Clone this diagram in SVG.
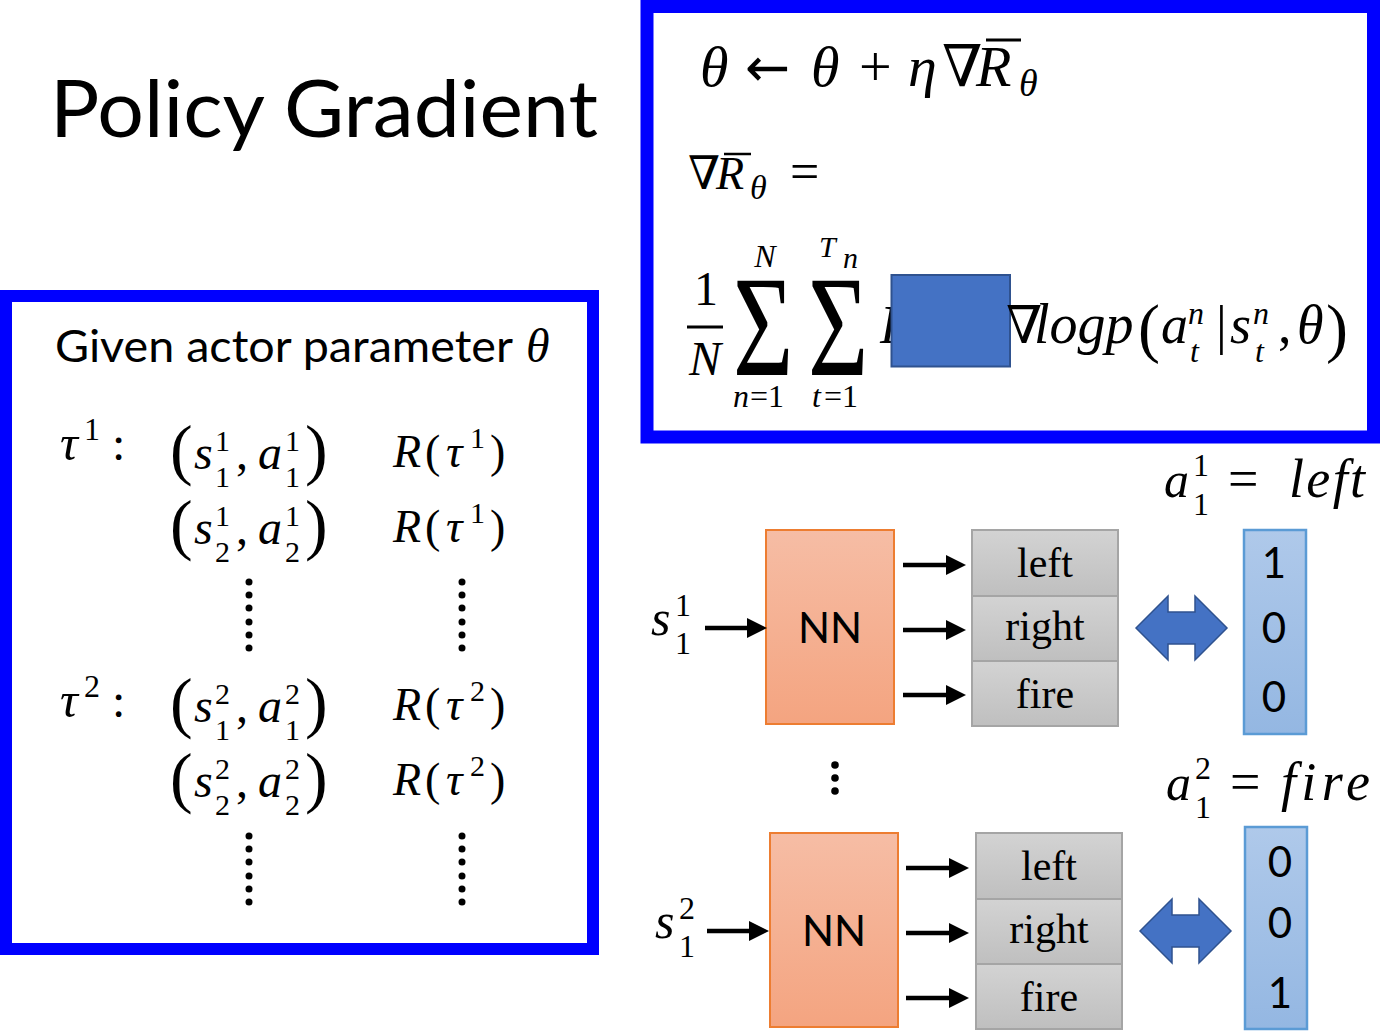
<svg xmlns="http://www.w3.org/2000/svg" width="1394" height="1031" viewBox="0 0 1394 1031">
<style>
.m{font-family:'Liberation Serif','DejaVu Serif',serif;font-style:italic;fill:#000}
.mu{font-family:'Liberation Serif','DejaVu Serif',serif;font-style:normal;fill:#000}
.sans{font-family:Lato,'Liberation Sans',sans-serif;fill:#000}
.tm{font-family:'Liberation Serif',serif;fill:#000;font-size:42px;text-anchor:middle}
.frame{fill:#fff;stroke:#0000ff}
.nn{fill:url(#gNN);stroke:#ED7D31;stroke-width:2}
.gray{fill:url(#gGray);stroke:#A5A5A5;stroke-width:2}
.vec{fill:url(#gVec);stroke:#5B9BD5;stroke-width:2.5}
.dbl{fill:#4472C4;stroke:#2F528F;stroke-width:1.5}
.arr{stroke:#000;stroke-width:4.5;fill:none;marker-end:url(#ah)}
.dot{fill:#000}
</style>
<defs>
<linearGradient id="gNN" x1="0" y1="0" x2="0" y2="1"><stop offset="0" stop-color="#F6BDA5"/><stop offset="1" stop-color="#F4A480"/></linearGradient>
<linearGradient id="gGray" x1="0" y1="0" x2="0" y2="1"><stop offset="0" stop-color="#D3D3D3"/><stop offset="1" stop-color="#BFBFBF"/></linearGradient>
<linearGradient id="gVec" x1="0" y1="0" x2="0" y2="1"><stop offset="0" stop-color="#AFC9EA"/><stop offset="1" stop-color="#94B7E2"/></linearGradient>
<marker id="ah" markerUnits="userSpaceOnUse" markerWidth="20" markerHeight="20" refX="10" refY="10" orient="auto"><path d="M0,0 L20,10 L0,20 z" fill="#000"/></marker>
<polygon id="dblshape" points="1136,628 1168,596 1168,612 1195,612 1195,596 1227,628 1195,660 1195,644 1168,644 1168,660"/>
</defs>
<rect width="1394" height="1031" fill="#fff"/>

<g id="title"><text class="sans" x="50" y="137" font-size="80" textLength="548" lengthAdjust="spacingAndGlyphs">Policy Gradient</text></g>

<g id="trajectories">
<rect class="frame" x="6" y="296" width="587" height="653" stroke-width="12"/>
<text class="sans" x="55" y="362" font-size="44" textLength="458" lengthAdjust="spacingAndGlyphs">Given actor parameter</text>
<text class="m" x="526" y="362" font-size="48">θ</text>

<text class="m" x="60" y="460" font-size="50">τ</text><text class="mu" x="84" y="440" font-size="32">1</text><text class="mu" x="112" y="460" font-size="48">:</text>
<text class="m" x="60" y="717" font-size="50">τ</text><text class="mu" x="84" y="697" font-size="32">2</text><text class="mu" x="112" y="717" font-size="48">:</text>

<g id="row1">
<text class="mu" x="170" y="472" font-size="68">(</text><text class="m" x="194" y="469" font-size="48">s</text><text class="mu" x="215" y="451" font-size="30">1</text><text class="mu" x="215" y="487" font-size="30">1</text><text class="mu" x="236" y="469" font-size="48">,</text><text class="m" x="258" y="469" font-size="48">a</text><text class="mu" x="285" y="451" font-size="30">1</text><text class="mu" x="285" y="487" font-size="30">1</text><text class="mu" x="305" y="472" font-size="68">)</text>
<text class="m" x="393" y="467" font-size="46">R</text><text class="mu" x="425" y="467" font-size="46">(</text><text class="m" x="446" y="467" font-size="46">τ</text><text class="mu" x="470" y="448" font-size="30">1</text><text class="mu" x="490" y="467" font-size="46">)</text>
</g>
<g id="row2">
<text class="mu" x="170" y="547" font-size="68">(</text><text class="m" x="194" y="544" font-size="48">s</text><text class="mu" x="215" y="526" font-size="30">1</text><text class="mu" x="215" y="562" font-size="30">2</text><text class="mu" x="236" y="544" font-size="48">,</text><text class="m" x="258" y="544" font-size="48">a</text><text class="mu" x="285" y="526" font-size="30">1</text><text class="mu" x="285" y="562" font-size="30">2</text><text class="mu" x="305" y="547" font-size="68">)</text>
<text class="m" x="393" y="542" font-size="46">R</text><text class="mu" x="425" y="542" font-size="46">(</text><text class="m" x="446" y="542" font-size="46">τ</text><text class="mu" x="470" y="523" font-size="30">1</text><text class="mu" x="490" y="542" font-size="46">)</text>
</g>
<g id="row3">
<text class="mu" x="170" y="725" font-size="68">(</text><text class="m" x="194" y="722" font-size="48">s</text><text class="mu" x="215" y="704" font-size="30">2</text><text class="mu" x="215" y="740" font-size="30">1</text><text class="mu" x="236" y="722" font-size="48">,</text><text class="m" x="258" y="722" font-size="48">a</text><text class="mu" x="285" y="704" font-size="30">2</text><text class="mu" x="285" y="740" font-size="30">1</text><text class="mu" x="305" y="725" font-size="68">)</text>
<text class="m" x="393" y="720" font-size="46">R</text><text class="mu" x="425" y="720" font-size="46">(</text><text class="m" x="446" y="720" font-size="46">τ</text><text class="mu" x="470" y="701" font-size="30">2</text><text class="mu" x="490" y="720" font-size="46">)</text>
</g>
<g id="row4">
<text class="mu" x="170" y="800" font-size="68">(</text><text class="m" x="194" y="797" font-size="48">s</text><text class="mu" x="215" y="779" font-size="30">2</text><text class="mu" x="215" y="815" font-size="30">2</text><text class="mu" x="236" y="797" font-size="48">,</text><text class="m" x="258" y="797" font-size="48">a</text><text class="mu" x="285" y="779" font-size="30">2</text><text class="mu" x="285" y="815" font-size="30">2</text><text class="mu" x="305" y="800" font-size="68">)</text>
<text class="m" x="393" y="795" font-size="46">R</text><text class="mu" x="425" y="795" font-size="46">(</text><text class="m" x="446" y="795" font-size="46">τ</text><text class="mu" x="470" y="776" font-size="30">2</text><text class="mu" x="490" y="795" font-size="46">)</text>
</g>
<g id="dots">
<circle class="dot" cx="249" cy="582" r="3.5"/><circle class="dot" cx="249" cy="595" r="3.5"/><circle class="dot" cx="249" cy="608" r="3.5"/><circle class="dot" cx="249" cy="622" r="3.5"/><circle class="dot" cx="249" cy="635" r="3.5"/><circle class="dot" cx="249" cy="648" r="3.5"/>
<circle class="dot" cx="462" cy="582" r="3.5"/><circle class="dot" cx="462" cy="595" r="3.5"/><circle class="dot" cx="462" cy="608" r="3.5"/><circle class="dot" cx="462" cy="622" r="3.5"/><circle class="dot" cx="462" cy="635" r="3.5"/><circle class="dot" cx="462" cy="648" r="3.5"/>
<circle class="dot" cx="249" cy="836" r="3.5"/><circle class="dot" cx="249" cy="849" r="3.5"/><circle class="dot" cx="249" cy="862" r="3.5"/><circle class="dot" cx="249" cy="876" r="3.5"/><circle class="dot" cx="249" cy="889" r="3.5"/><circle class="dot" cx="249" cy="902" r="3.5"/>
<circle class="dot" cx="462" cy="836" r="3.5"/><circle class="dot" cx="462" cy="849" r="3.5"/><circle class="dot" cx="462" cy="862" r="3.5"/><circle class="dot" cx="462" cy="876" r="3.5"/><circle class="dot" cx="462" cy="889" r="3.5"/><circle class="dot" cx="462" cy="902" r="3.5"/>
</g>
</g>

<g id="formulas">
<rect class="frame" x="647" y="6.5" width="726.5" height="430.5" stroke-width="13"/>
<g id="update">
<text class="m" x="700" y="86" font-size="58">θ</text>
<text x="745" y="86" font-size="54" font-family="'DejaVu Sans',sans-serif">←</text>
<text class="m" x="811" y="86" font-size="58">θ</text>
<text class="mu" x="859" y="86" font-size="58">+</text>
<text class="m" x="908" y="86" font-size="58">η</text>
<text class="m" x="942" y="86" font-size="58">∇</text>
<text class="m" x="976" y="86" font-size="58">R</text>
<line x1="986" y1="40" x2="1021" y2="40" stroke="#000" stroke-width="3"/>
<text class="m" x="1019" y="96" font-size="38">θ</text>
</g>
<g id="gradlabel">
<text class="m" x="688" y="189" font-size="46">∇</text>
<text class="m" x="716" y="189" font-size="46">R</text>
<line x1="724" y1="154" x2="751" y2="154" stroke="#000" stroke-width="2.5"/>
<text class="m" x="750" y="199" font-size="34">θ</text>
<text class="mu" x="790" y="189" font-size="52">=</text>
</g>
<g id="gradexpr">
<text class="mu" x="706" y="305" font-size="48" text-anchor="middle">1</text>
<rect x="687" y="325.5" width="36" height="3" fill="#000"/>
<text class="m" x="705" y="375" font-size="48" text-anchor="middle">N</text>
<text class="mu" transform="translate(733,375) scale(0.72,1)" font-size="144">Σ</text>
<text class="m" x="765" y="267" font-size="32" text-anchor="middle">N</text>
<text class="m" x="733" y="407" font-size="32">n</text><text class="mu" x="750" y="407" font-size="32">=1</text>
<text class="mu" transform="translate(808,375) scale(0.72,1)" font-size="144">Σ</text>
<text class="m" x="819" y="257" font-size="30">T</text><text class="m" x="843" y="268" font-size="30">n</text>
<text class="m" x="812" y="407" font-size="32">t</text><text class="mu" x="824" y="407" font-size="32">=1</text>
<text class="m" x="880" y="343" font-size="54">R</text>
<rect x="891.5" y="275" width="118.5" height="91.5" fill="#4472C4" stroke="#2F528F" stroke-width="2"/>
<text class="m" x="1006" y="343" font-size="52">∇</text>
<text class="m" x="1034" y="343" font-size="56">logp</text>
<text class="mu" x="1138" y="350" font-size="66">(</text>
<text class="m" x="1161" y="343" font-size="54">a</text>
<text class="m" x="1188" y="324" font-size="32">n</text><text class="m" x="1190" y="362" font-size="32">t</text>
<text class="mu" x="1216" y="343" font-size="54">|</text>
<text class="m" x="1230" y="343" font-size="54">s</text>
<text class="m" x="1253" y="324" font-size="32">n</text><text class="m" x="1255" y="362" font-size="32">t</text>
<text class="mu" x="1278" y="343" font-size="54">,</text>
<text class="m" x="1297" y="343" font-size="54">θ</text>
<text class="mu" x="1326" y="350" font-size="66">)</text>
</g>
</g>

<g id="sample1">
<g id="a11label">
<text class="m" x="1164" y="497" font-size="50">a</text>
<text class="mu" x="1193" y="476" font-size="32">1</text><text class="mu" x="1193" y="515" font-size="32">1</text>
<text class="mu" x="1228" y="497" font-size="54">=</text>
<text class="m" x="1289" y="497" font-size="54" textLength="76" lengthAdjust="spacing">left</text>
</g>
<g id="s11"><text class="m" x="651" y="635" font-size="50">s</text><text class="mu" x="675" y="616" font-size="32">1</text><text class="mu" x="675" y="654" font-size="32">1</text></g>
<g id="nn1"><rect class="nn" x="766" y="530" width="128" height="194"/><text class="sans" x="830" y="643" font-size="42" text-anchor="middle">NN</text></g>
<g id="out1">
<rect class="gray" x="972" y="530" width="146" height="66"/><text class="tm" x="1045" y="577">left</text>
<rect class="gray" x="972" y="596" width="146" height="65"/><text class="tm" x="1045" y="640">right</text>
<rect class="gray" x="972" y="661" width="146" height="65"/><text class="tm" x="1045" y="708">fire</text>
</g>
<g id="dbl1"><use href="#dblshape" class="dbl"/></g>
<g id="vec1"><rect class="vec" x="1244" y="530" width="62" height="204"/>
<text class="sans" x="1274" y="578" font-size="42" text-anchor="middle">1</text>
<text class="sans" x="1274" y="643" font-size="42" text-anchor="middle">0</text>
<text class="sans" x="1274" y="712" font-size="42" text-anchor="middle">0</text></g>
</g>

<g id="vdots"><circle class="dot" cx="835" cy="765" r="3.8"/><circle class="dot" cx="835" cy="778" r="3.8"/><circle class="dot" cx="835" cy="791" r="3.8"/></g>

<g id="sample2">
<g id="a12label">
<text class="m" x="1166" y="800" font-size="50">a</text>
<text class="mu" x="1195" y="779" font-size="32">2</text><text class="mu" x="1195" y="818" font-size="32">1</text>
<text class="mu" x="1230" y="800" font-size="54">=</text>
<text class="m" x="1281" y="800" font-size="54" textLength="89" lengthAdjust="spacing">fire</text>
</g>
<g id="s21"><text class="m" x="655" y="938" font-size="50">s</text><text class="mu" x="679" y="919" font-size="32">2</text><text class="mu" x="679" y="957" font-size="32">1</text></g>
<g id="nn2"><rect class="nn" x="770" y="833" width="128" height="194"/><text class="sans" x="834" y="946" font-size="42" text-anchor="middle">NN</text></g>
<g id="out2">
<rect class="gray" x="976" y="833" width="146" height="66"/><text class="tm" x="1049" y="880">left</text>
<rect class="gray" x="976" y="899" width="146" height="65"/><text class="tm" x="1049" y="943">right</text>
<rect class="gray" x="976" y="964" width="146" height="65"/><text class="tm" x="1049" y="1011">fire</text>
</g>
<g id="dbl2"><use href="#dblshape" class="dbl" transform="translate(4,303)"/></g>
<g id="vec2"><rect class="vec" x="1245" y="827" width="62" height="202"/>
<text class="sans" x="1280" y="877" font-size="42" text-anchor="middle">0</text>
<text class="sans" x="1280" y="938" font-size="42" text-anchor="middle">0</text>
<text class="sans" x="1280" y="1008" font-size="42" text-anchor="middle">1</text></g>
</g>

<g id="connectors">
<line class="arr" x1="705" y1="628" x2="757" y2="628"/>
<line class="arr" x1="903" y1="565" x2="956" y2="565"/>
<line class="arr" x1="903" y1="630" x2="956" y2="630"/>
<line class="arr" x1="903" y1="695" x2="956" y2="695"/>
<line class="arr" x1="707" y1="931" x2="759" y2="931"/>
<line class="arr" x1="906" y1="868" x2="959" y2="868"/>
<line class="arr" x1="906" y1="933" x2="959" y2="933"/>
<line class="arr" x1="906" y1="998" x2="959" y2="998"/>
</g>
</svg>
